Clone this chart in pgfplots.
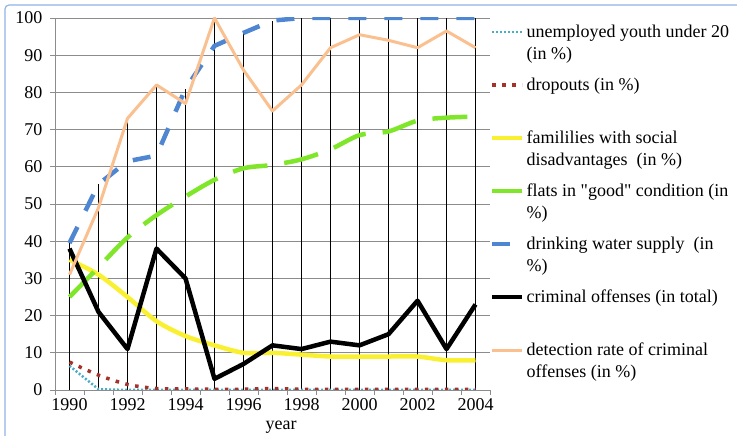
\documentclass[border=0pt]{standalone}
\usepackage{fontspec}
\setmainfont{Liberation Serif}[Ligatures=TeXOff]
\usepackage{pgfplots}
\pgfplotsset{compat=1.18}
\definecolor{cUnemp}{HTML}{4BACC6}
\definecolor{cDrop}{HTML}{A5322A}
\definecolor{cFam}{HTML}{FAF032}
\definecolor{cFlat}{HTML}{7FE62A}
\definecolor{cWater}{HTML}{4F86D2}
\definecolor{cDet}{HTML}{FAC08F}
\definecolor{cGrid}{HTML}{8C8C8C}
\definecolor{cFrame}{HTML}{8EB4E3}
\newcommand{\legtext}[1]{\parbox[t]{220bp}{\raggedright #1}}
\begin{document}
\begin{tikzpicture}[x=1bp,y=1bp]
\useasboundingbox (-55,-46) rectangle (682,390);
\draw[cFrame, line width=1.2bp, rounded corners=4bp] (-50,-70) rectangle (720,385);
\begin{axis}[
  at={(0,0)}, anchor=south west,
  scale only axis, width=435bp, height=372bp,
  xmin=1989.5, xmax=2004.5, ymin=0, ymax=100,
  axis x line*=bottom, axis y line*=left,
  axis line style={draw=cGrid, line width=0.8bp, -},
  x axis line style={-}, y axis line style={-},
  xtick={1990,1992,...,2004},
  xticklabels={1990,1992,1994,1996,1998,2000,2002,2004},
  minor xtick={1989.5,1990.5,...,2004.5},
  major x tick style={draw=none},
  minor x tick style={draw=cGrid, line width=0.8bp},
  ytick={0,10,...,100},
  major y tick style={draw=cGrid, line width=0.8bp},
  tick align=outside,
  major tick length=5bp, minor tick length=5bp,
  ymajorgrids,
  grid style={draw=cGrid, line width=0.8bp},
  tick label style={font=\fontsize{18bp}{21bp}\selectfont},
  yticklabel style={xshift=-4bp},
  /pgf/number format/assume math mode=true,
  xlabel={year},
  xlabel style={at={(rel axis cs:0.52,0)}, anchor=north, yshift=-31bp, inner sep=0pt,
    font=\fontsize{18bp}{21bp}\selectfont},
  legend style={at={(rel axis cs:1,1)}, anchor=north west, yshift=-2bp,
    draw=none, fill=none, inner sep=0pt, row sep=0pt, column sep=2bp,
    nodes={inner sep=0pt},
    font=\fontsize{18bp}{22bp}\selectfont},
  legend cell align=left,
  legend image code/.code={\draw[#1] (0bp,0bp) -- (30bp,0bp);
    \path[draw=none] (0bp,12bp) -- (0bp,-41bp);},
]
% drop lines (max of all series per year)
\addplot[ycomb, black, line width=1.3bp, forget plot] coordinates {
(1990,39.5) (1991,55.3) (1992,73) (1993,82) (1994,81) (1995,100) (1996,96) (1997,99.3)
(1998,100) (1999,100) (2000,100) (2001,100) (2002,100) (2003,100) (2004,100)};
% unemployed youth under 20
\addplot[cUnemp, line width=2.5bp, dash pattern=on 2bp off 2bp] coordinates {
(1990,6.5) (1991,0.2) (1992,0) (1993,0) (1994,0) (1995,0) (1996,0) (1997,0)
(1998,0) (1999,0) (2000,0) (2001,0) (2002,0) (2003,0) (2004,0)};
\addlegendentry{\legtext{unemployed youth under 20\\(in \%)}}
% dropouts
\addplot[cDrop, line width=3.5bp, dash pattern=on 3.5bp off 6.5bp, smooth] coordinates {
(1990,7.5) (1991,4) (1992,1.5) (1993,0.4) (1994,0.3) (1995,0.2) (1996,0.2) (1997,0.4)
(1998,0.2) (1999,0.2) (2000,0.2) (2001,0.2) (2002,0.2) (2003,0.2) (2004,0.2)};
\addlegendentry{\legtext{dropouts (in \%)}}
% families with social disadvantages
\addplot[cFam, line width=4.5bp, smooth] coordinates {
(1990,35) (1991,31) (1992,25) (1993,18.5) (1994,14.5) (1995,12) (1996,10) (1997,10)
(1998,9.5) (1999,9) (2000,9) (2001,9) (2002,9) (2003,8) (2004,8)};
\addlegendentry{\legtext{famililies with social\\disadvantages~ (in \%)}}
% flats in good condition
\addplot[cFlat, line width=4.5bp, dash pattern=on 35bp off 17bp, smooth] coordinates {
(1990,25) (1991,33) (1992,41) (1993,47) (1994,52) (1995,56.5) (1996,59.6) (1997,60.5)
(1998,62) (1999,64.7) (2000,68.5) (2001,69.5) (2002,72.4) (2003,73.2) (2004,73.5)};
\addlegendentry{\legtext{flats in "good" condition (in\\\%)}}
% drinking water supply
\addplot[cWater, line width=4.5bp, dash pattern=on 18bp off 18bp] coordinates {
(1990,39.5) (1991,55.3) (1992,61.5) (1993,63) (1994,81) (1995,92.5) (1996,96) (1997,99.3)
(1998,100) (1999,100) (2000,100) (2001,100) (2002,100) (2003,100) (2004,100)};
\addlegendentry{\legtext{drinking water supply~ (in\\\%)}}
% criminal offenses
\addplot[black, line width=4.5bp, line join=round] coordinates {
(1990,38) (1991,21) (1992,11) (1993,38) (1994,30) (1995,3) (1996,7) (1997,12)
(1998,11) (1999,13) (2000,12) (2001,15) (2002,24) (2003,11) (2004,23)};
\addlegendentry{\legtext{criminal offenses (in total)}}
% detection rate
\addplot[cDet, line width=3bp, line join=round] coordinates {
(1990,31) (1991,49) (1992,73) (1993,82) (1994,77) (1995,100) (1996,86) (1997,75)
(1998,82) (1999,92) (2000,95.5) (2001,94) (2002,92) (2003,96.5) (2004,92)};
\addlegendentry{\legtext{detection rate of criminal\\offenses (in \%)}}
\end{axis}
\end{tikzpicture}
\end{document}
